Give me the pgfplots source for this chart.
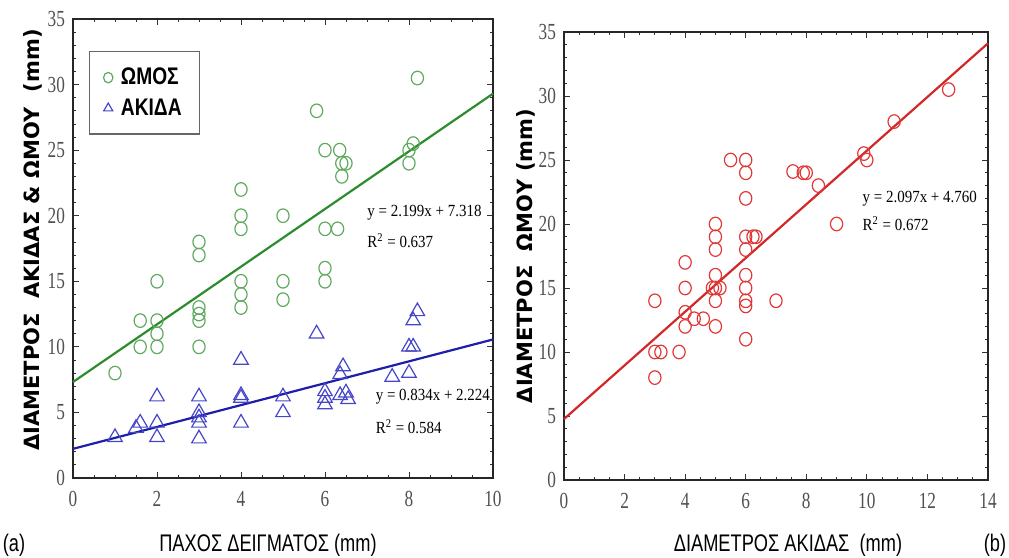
\documentclass[border=0pt]{standalone}
\usepackage{fontspec}
\usepackage{pgfplots}
\pgfplotsset{compat=1.18}
\setmainfont{Liberation Serif}[FakeStretch=0.88]
\newfontfamily\tickfont{Liberation Serif}[FakeStretch=0.75]
\newfontfamily\ylabfont{DejaVu Sans}
\newfontfamily\condfont{Liberation Sans}[FakeStretch=0.76]
\newfontfamily\legfont{Liberation Sans}[FakeStretch=0.8]
\definecolor{gcirc}{RGB}{95,170,95}
\definecolor{gline}{RGB}{45,140,45}
\definecolor{btri}{RGB}{70,70,200}
\definecolor{bline}{RGB}{30,30,170}
\definecolor{rcirc}{RGB}{225,55,55}
\definecolor{rline}{RGB}{210,40,40}
\definecolor{tickgray}{RGB}{80,80,80}
\pgfplotsset{
  common/.style={
    scale only axis,
    anchor=south west,
    ymin=0, ymax=35,
    ytick={0,5,...,35},
    minor y tick num=4,
    minor x tick num=3,
    axis line style={line width=0.9pt, black!85},
    major tick length=3pt,
    minor tick length=1.6pt,
    every tick/.style={black!80, line width=0.4pt},
    /pgf/number format/assume math mode=true,
    xticklabel={\tickfont\pgfmathprintnumber{\tick}},
    yticklabel={\tickfont\pgfmathprintnumber{\tick}},
    ticklabel style={font=\tickfont\fontsize{11.5}{12}\selectfont, text=tickgray},
    xticklabel style={yshift=-3pt},
    yticklabel style={xshift=-0.5pt},
    clip=false,
  }
}
\begin{document}
\begin{tikzpicture}[x=1pt,y=1pt]
\path[use as bounding box] (0,0) rectangle (504.5,279);
% ---------- (a) ----------
\begin{axis}[common,
  at={(36.5pt,40pt)}, width=210pt, height=229.5pt,
  xmin=0, xmax=10, xtick={0,2,...,10},
  legend style={at={(0.038,0.930)}, anchor=north west, draw=black!60, line width=0.6pt,
    font=\legfont\bfseries\fontsize{12}{13}\selectfont,
    inner xsep=7pt, inner ysep=6pt, row sep=1.5pt},
  legend cell align=left,
  legend image code/.code={\draw[#1, mark size=2.6pt] plot coordinates {(0.35cm,0cm)};},
]
\addplot[only marks, mark=o, mark size=3.4pt, mark options={draw=gcirc, line width=0.6pt, xscale=0.9}]
coordinates {
(1,8) (1.6,10) (1.6,12) (2,10) (2,11) (2,12) (2,15)
(3,10) (3,12) (3,12.5) (3,13) (3,17) (3,18)
(4,13) (4,14) (4,15) (4,19) (4,20) (4,22)
(5,13.6) (5,15) (5,20)
(5.8,28) (6,15) (6,16) (6,19) (6,25) (6.3,19)
(6.35,25) (6.4,24) (6.4,23) (6.5,24)
(8,24) (8,25) (8.1,25.5) (8.2,30.5)
};
\addlegendentry{\,ΩΜΟΣ}
\addplot[only marks, mark=triangle, mark size=4.2pt, mark options={draw=btri, line width=0.6pt}]
coordinates {
(1,3.1) (1.5,3.8) (1.6,4.2) (2,3.1) (2,4.2) (2,6.2)
(3,3.0) (3,4.2) (3,4.6) (3,5.0) (3,6.2)
(4,4.2) (4,6.1) (4,6.3) (4,9)
(5,5.0) (5,6.2)
(5.8,11) (6,5.6) (6,6.1) (6,6.6)
(6.36,6.3) (6.36,7.9) (6.43,8.5) (6.5,6.5) (6.55,6.0)
(7.6,7.7) (8,8) (8,10) (8.1,10) (8.1,12) (8.2,12.7)
};
\addlegendentry{\,ΑΚΙΔΑ}
\addplot[gline, line width=1.1pt, forget plot] coordinates {(0,7.318) (10,29.308)};
\addplot[bline, line width=1.1pt, forget plot] coordinates {(0,2.224) (10,10.564)};
\node[anchor=west, inner sep=0pt, font=\fontsize{8.5}{9}\selectfont] at (axis cs:7.0,20.2) {y = 2.199x + 7.318};
\node[anchor=west, inner sep=0pt, font=\fontsize{8.5}{9}\selectfont] at (axis cs:7.0,18.1) {R\textsuperscript{2} = 0.637};
\node[anchor=west, inner sep=0pt, font=\fontsize{8.5}{9}\selectfont] at (axis cs:7.2,6.2) {y = 0.834x + 2.224};
\node[anchor=west, inner sep=0pt, font=\fontsize{8.5}{9}\selectfont] at (axis cs:7.2,3.9) {R\textsuperscript{2} = 0.584};
\end{axis}
% ---------- (b) ----------
\begin{axis}[common,
  at={(282pt,39pt)}, width=212pt, height=224pt,
  xmin=0, xmax=14, xtick={0,2,...,14},
]
\addplot[only marks, mark=o, mark size=3.4pt, mark options={draw=rcirc, line width=0.6pt, xscale=0.9}]
coordinates {
(3,8) (3,10) (3.2,10) (3.8,10) (3,14)
(4,12) (4,13.1) (4.3,12.6) (4.6,12.6) (4,15) (4,17)
(5,12) (5,14) (4.9,15) (5,15) (5.15,15) (5,16) (5,18) (5,19) (5,20)
(6,11) (6,13.6) (6,14) (6,15) (6,16) (6,18) (6,19) (6.24,19) (6.34,19)
(6,22) (6,24) (6,25) (5.5,25) (7,14)
(7.56,24.1) (7.9,24) (8,24) (8.4,23) (9,20)
(9.9,25.5) (10,25) (10.9,28) (12.7,30.5)
};
\addplot[rline, line width=1.1pt] coordinates {(0,4.760) (14,34.118)};
\node[anchor=west, inner sep=0pt, font=\fontsize{8.5}{9}\selectfont] at (axis cs:9.85,22.0) {y = 2.097x + 4.760};
\node[anchor=west, inner sep=0pt, font=\fontsize{8.5}{9}\selectfont] at (axis cs:9.85,20.0) {R\textsuperscript{2} = 0.672};
\end{axis}
% ---------- labels ----------
\node[rotate=90, font=\ylabfont\bfseries\fontsize{10.5}{12}\selectfont] at (16.5,159) {ΔΙΑΜΕΤΡΟΣ \ ΑΚΙΔΑΣ \& ΩΜΟΥ \ (mm)};
\node[rotate=90, font=\ylabfont\bfseries\fontsize{10.5}{12}\selectfont] at (263,151) {ΔΙΑΜΕΤΡΟΣ \ ΩΜΟΥ (mm)};
\node[font=\condfont\fontsize{12}{13}\selectfont] at (134,6.5) {ΠΑΧΟΣ ΔΕΙΓΜΑΤΟΣ (mm)};
\node[font=\condfont\fontsize{12}{13}\selectfont] at (394,6.5) {ΔΙΑΜΕΤΡΟΣ ΑΚΙΔΑΣ \ (mm)};
\node[font=\condfont\fontsize{12}{13}\selectfont] at (7,6.5) {(a)};
\node[font=\condfont\fontsize{12}{13}\selectfont] at (497.5,6.5) {(b)};
\end{tikzpicture}
\end{document}
